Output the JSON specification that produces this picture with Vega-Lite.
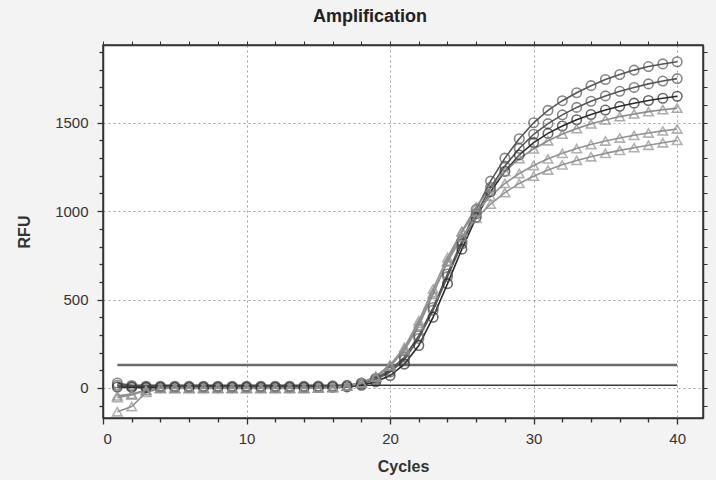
{
  "$schema": "https://vega.github.io/schema/vega-lite/v6.json",
  "autosize": {"type": "none"},
  "width": 600,
  "height": 373,
  "padding": {"left": 103, "top": 45, "right": 13, "bottom": 62},
  "background": "#f3f3f3",
  "config": {
    "font": "Liberation Sans",
    "view": {"fill": "#ffffff", "stroke": "#333333", "strokeWidth": 1.5}
  },
  "title": {"text": "Amplification", "fontSize": 18, "fontWeight": "bold", "font": "Liberation Sans", "color": "#222222", "anchor": "middle", "frame": "group", "dx": -33, "offset": 15},
  "datasets": {
    "curves": [
      {"cycle":1,"sample":"A1","rfu":28},{"cycle":2,"sample":"A1","rfu":14},{"cycle":3,"sample":"A1","rfu":10},{"cycle":4,"sample":"A1","rfu":10},{"cycle":5,"sample":"A1","rfu":10},{"cycle":6,"sample":"A1","rfu":10},{"cycle":7,"sample":"A1","rfu":10},{"cycle":8,"sample":"A1","rfu":10},{"cycle":9,"sample":"A1","rfu":10},{"cycle":10,"sample":"A1","rfu":10},{"cycle":11,"sample":"A1","rfu":10},{"cycle":12,"sample":"A1","rfu":10},{"cycle":13,"sample":"A1","rfu":10},{"cycle":14,"sample":"A1","rfu":10},{"cycle":15,"sample":"A1","rfu":11},{"cycle":16,"sample":"A1","rfu":12},{"cycle":17,"sample":"A1","rfu":15},{"cycle":18,"sample":"A1","rfu":28},{"cycle":19,"sample":"A1","rfu":55},{"cycle":20,"sample":"A1","rfu":100},{"cycle":21,"sample":"A1","rfu":175},{"cycle":22,"sample":"A1","rfu":295},{"cycle":23,"sample":"A1","rfu":455},{"cycle":24,"sample":"A1","rfu":645},{"cycle":25,"sample":"A1","rfu":830},{"cycle":26,"sample":"A1","rfu":1010},{"cycle":27,"sample":"A1","rfu":1170},{"cycle":28,"sample":"A1","rfu":1300},{"cycle":29,"sample":"A1","rfu":1410},{"cycle":30,"sample":"A1","rfu":1500},{"cycle":31,"sample":"A1","rfu":1570},{"cycle":32,"sample":"A1","rfu":1625},{"cycle":33,"sample":"A1","rfu":1670},{"cycle":34,"sample":"A1","rfu":1710},{"cycle":35,"sample":"A1","rfu":1745},{"cycle":36,"sample":"A1","rfu":1773},{"cycle":37,"sample":"A1","rfu":1798},{"cycle":38,"sample":"A1","rfu":1818},{"cycle":39,"sample":"A1","rfu":1833},{"cycle":40,"sample":"A1","rfu":1845},
      {"cycle":1,"sample":"A2","rfu":15},{"cycle":2,"sample":"A2","rfu":8},{"cycle":3,"sample":"A2","rfu":6},{"cycle":4,"sample":"A2","rfu":6},{"cycle":5,"sample":"A2","rfu":6},{"cycle":6,"sample":"A2","rfu":6},{"cycle":7,"sample":"A2","rfu":6},{"cycle":8,"sample":"A2","rfu":6},{"cycle":9,"sample":"A2","rfu":6},{"cycle":10,"sample":"A2","rfu":6},{"cycle":11,"sample":"A2","rfu":6},{"cycle":12,"sample":"A2","rfu":6},{"cycle":13,"sample":"A2","rfu":6},{"cycle":14,"sample":"A2","rfu":6},{"cycle":15,"sample":"A2","rfu":7},{"cycle":16,"sample":"A2","rfu":8},{"cycle":17,"sample":"A2","rfu":12},{"cycle":18,"sample":"A2","rfu":24},{"cycle":19,"sample":"A2","rfu":48},{"cycle":20,"sample":"A2","rfu":90},{"cycle":21,"sample":"A2","rfu":160},{"cycle":22,"sample":"A2","rfu":280},{"cycle":23,"sample":"A2","rfu":440},{"cycle":24,"sample":"A2","rfu":630},{"cycle":25,"sample":"A2","rfu":815},{"cycle":26,"sample":"A2","rfu":985},{"cycle":27,"sample":"A2","rfu":1135},{"cycle":28,"sample":"A2","rfu":1255},{"cycle":29,"sample":"A2","rfu":1355},{"cycle":30,"sample":"A2","rfu":1435},{"cycle":31,"sample":"A2","rfu":1495},{"cycle":32,"sample":"A2","rfu":1545},{"cycle":33,"sample":"A2","rfu":1587},{"cycle":34,"sample":"A2","rfu":1622},{"cycle":35,"sample":"A2","rfu":1652},{"cycle":36,"sample":"A2","rfu":1678},{"cycle":37,"sample":"A2","rfu":1700},{"cycle":38,"sample":"A2","rfu":1720},{"cycle":39,"sample":"A2","rfu":1736},{"cycle":40,"sample":"A2","rfu":1750},
      {"cycle":1,"sample":"A3","rfu":5},{"cycle":2,"sample":"A3","rfu":3},{"cycle":3,"sample":"A3","rfu":2},{"cycle":4,"sample":"A3","rfu":2},{"cycle":5,"sample":"A3","rfu":2},{"cycle":6,"sample":"A3","rfu":2},{"cycle":7,"sample":"A3","rfu":2},{"cycle":8,"sample":"A3","rfu":2},{"cycle":9,"sample":"A3","rfu":2},{"cycle":10,"sample":"A3","rfu":2},{"cycle":11,"sample":"A3","rfu":2},{"cycle":12,"sample":"A3","rfu":2},{"cycle":13,"sample":"A3","rfu":2},{"cycle":14,"sample":"A3","rfu":2},{"cycle":15,"sample":"A3","rfu":3},{"cycle":16,"sample":"A3","rfu":4},{"cycle":17,"sample":"A3","rfu":6},{"cycle":18,"sample":"A3","rfu":15},{"cycle":19,"sample":"A3","rfu":35},{"cycle":20,"sample":"A3","rfu":70},{"cycle":21,"sample":"A3","rfu":135},{"cycle":22,"sample":"A3","rfu":240},{"cycle":23,"sample":"A3","rfu":400},{"cycle":24,"sample":"A3","rfu":590},{"cycle":25,"sample":"A3","rfu":785},{"cycle":26,"sample":"A3","rfu":965},{"cycle":27,"sample":"A3","rfu":1110},{"cycle":28,"sample":"A3","rfu":1225},{"cycle":29,"sample":"A3","rfu":1318},{"cycle":30,"sample":"A3","rfu":1388},{"cycle":31,"sample":"A3","rfu":1440},{"cycle":32,"sample":"A3","rfu":1482},{"cycle":33,"sample":"A3","rfu":1517},{"cycle":34,"sample":"A3","rfu":1547},{"cycle":35,"sample":"A3","rfu":1572},{"cycle":36,"sample":"A3","rfu":1593},{"cycle":37,"sample":"A3","rfu":1611},{"cycle":38,"sample":"A3","rfu":1626},{"cycle":39,"sample":"A3","rfu":1639},{"cycle":40,"sample":"A3","rfu":1650},
      {"cycle":1,"sample":"B1","rfu":-45},{"cycle":2,"sample":"B1","rfu":-35},{"cycle":3,"sample":"B1","rfu":-12},{"cycle":4,"sample":"B1","rfu":0},{"cycle":5,"sample":"B1","rfu":0},{"cycle":6,"sample":"B1","rfu":0},{"cycle":7,"sample":"B1","rfu":0},{"cycle":8,"sample":"B1","rfu":0},{"cycle":9,"sample":"B1","rfu":0},{"cycle":10,"sample":"B1","rfu":0},{"cycle":11,"sample":"B1","rfu":0},{"cycle":12,"sample":"B1","rfu":0},{"cycle":13,"sample":"B1","rfu":0},{"cycle":14,"sample":"B1","rfu":0},{"cycle":15,"sample":"B1","rfu":2},{"cycle":16,"sample":"B1","rfu":4},{"cycle":17,"sample":"B1","rfu":10},{"cycle":18,"sample":"B1","rfu":28},{"cycle":19,"sample":"B1","rfu":62},{"cycle":20,"sample":"B1","rfu":122},{"cycle":21,"sample":"B1","rfu":212},{"cycle":22,"sample":"B1","rfu":352},{"cycle":23,"sample":"B1","rfu":530},{"cycle":24,"sample":"B1","rfu":718},{"cycle":25,"sample":"B1","rfu":885},{"cycle":26,"sample":"B1","rfu":1025},{"cycle":27,"sample":"B1","rfu":1135},{"cycle":28,"sample":"B1","rfu":1225},{"cycle":29,"sample":"B1","rfu":1297},{"cycle":30,"sample":"B1","rfu":1352},{"cycle":31,"sample":"B1","rfu":1398},{"cycle":32,"sample":"B1","rfu":1436},{"cycle":33,"sample":"B1","rfu":1467},{"cycle":34,"sample":"B1","rfu":1494},{"cycle":35,"sample":"B1","rfu":1516},{"cycle":36,"sample":"B1","rfu":1535},{"cycle":37,"sample":"B1","rfu":1550},{"cycle":38,"sample":"B1","rfu":1563},{"cycle":39,"sample":"B1","rfu":1574},{"cycle":40,"sample":"B1","rfu":1583},
      {"cycle":1,"sample":"B2","rfu":-55},{"cycle":2,"sample":"B2","rfu":-40},{"cycle":3,"sample":"B2","rfu":-15},{"cycle":4,"sample":"B2","rfu":-2},{"cycle":5,"sample":"B2","rfu":-2},{"cycle":6,"sample":"B2","rfu":-2},{"cycle":7,"sample":"B2","rfu":-2},{"cycle":8,"sample":"B2","rfu":-2},{"cycle":9,"sample":"B2","rfu":-2},{"cycle":10,"sample":"B2","rfu":-2},{"cycle":11,"sample":"B2","rfu":-2},{"cycle":12,"sample":"B2","rfu":-2},{"cycle":13,"sample":"B2","rfu":-2},{"cycle":14,"sample":"B2","rfu":-2},{"cycle":15,"sample":"B2","rfu":0},{"cycle":16,"sample":"B2","rfu":3},{"cycle":17,"sample":"B2","rfu":11},{"cycle":18,"sample":"B2","rfu":30},{"cycle":19,"sample":"B2","rfu":66},{"cycle":20,"sample":"B2","rfu":130},{"cycle":21,"sample":"B2","rfu":230},{"cycle":22,"sample":"B2","rfu":380},{"cycle":23,"sample":"B2","rfu":560},{"cycle":24,"sample":"B2","rfu":738},{"cycle":25,"sample":"B2","rfu":885},{"cycle":26,"sample":"B2","rfu":995},{"cycle":27,"sample":"B2","rfu":1085},{"cycle":28,"sample":"B2","rfu":1157},{"cycle":29,"sample":"B2","rfu":1213},{"cycle":30,"sample":"B2","rfu":1258},{"cycle":31,"sample":"B2","rfu":1296},{"cycle":32,"sample":"B2","rfu":1327},{"cycle":33,"sample":"B2","rfu":1354},{"cycle":34,"sample":"B2","rfu":1377},{"cycle":35,"sample":"B2","rfu":1397},{"cycle":36,"sample":"B2","rfu":1414},{"cycle":37,"sample":"B2","rfu":1429},{"cycle":38,"sample":"B2","rfu":1442},{"cycle":39,"sample":"B2","rfu":1454},{"cycle":40,"sample":"B2","rfu":1465},
      {"cycle":1,"sample":"B3","rfu":-135},{"cycle":2,"sample":"B3","rfu":-105},{"cycle":3,"sample":"B3","rfu":-25},{"cycle":4,"sample":"B3","rfu":-3},{"cycle":5,"sample":"B3","rfu":-3},{"cycle":6,"sample":"B3","rfu":-3},{"cycle":7,"sample":"B3","rfu":-3},{"cycle":8,"sample":"B3","rfu":-3},{"cycle":9,"sample":"B3","rfu":-3},{"cycle":10,"sample":"B3","rfu":-3},{"cycle":11,"sample":"B3","rfu":-3},{"cycle":12,"sample":"B3","rfu":-3},{"cycle":13,"sample":"B3","rfu":-3},{"cycle":14,"sample":"B3","rfu":-3},{"cycle":15,"sample":"B3","rfu":-1},{"cycle":16,"sample":"B3","rfu":2},{"cycle":17,"sample":"B3","rfu":10},{"cycle":18,"sample":"B3","rfu":28},{"cycle":19,"sample":"B3","rfu":62},{"cycle":20,"sample":"B3","rfu":125},{"cycle":21,"sample":"B3","rfu":220},{"cycle":22,"sample":"B3","rfu":365},{"cycle":23,"sample":"B3","rfu":540},{"cycle":24,"sample":"B3","rfu":712},{"cycle":25,"sample":"B3","rfu":855},{"cycle":26,"sample":"B3","rfu":960},{"cycle":27,"sample":"B3","rfu":1040},{"cycle":28,"sample":"B3","rfu":1105},{"cycle":29,"sample":"B3","rfu":1157},{"cycle":30,"sample":"B3","rfu":1198},{"cycle":31,"sample":"B3","rfu":1233},{"cycle":32,"sample":"B3","rfu":1262},{"cycle":33,"sample":"B3","rfu":1287},{"cycle":34,"sample":"B3","rfu":1308},{"cycle":35,"sample":"B3","rfu":1327},{"cycle":36,"sample":"B3","rfu":1344},{"cycle":37,"sample":"B3","rfu":1359},{"cycle":38,"sample":"B3","rfu":1373},{"cycle":39,"sample":"B3","rfu":1387},{"cycle":40,"sample":"B3","rfu":1400}
    ],
    "thresholds": [
      {"name": "upper", "start": 1, "end": 40, "rfu": 130},
      {"name": "lower", "start": 1, "end": 40, "rfu": 15}
    ]
  },
  "resolve": {"axis": {"x": "independent", "y": "independent"}},
  "layer": [
    {
      "data": {"name": "thresholds"},
      "transform": [{"filter": "datum.name === 'upper'"}],
      "mark": {"type": "rule", "color": "#6a6a6a", "strokeWidth": 2.4},
      "encoding": {
        "x": {"field": "start", "type": "quantitative", "scale": {"domain": [0, 41.8], "nice": false, "zero": false}, "axis": null},
        "x2": {"field": "end"},
        "y": {"field": "rfu", "type": "quantitative", "scale": {"domain": [-170, 1940], "nice": false, "zero": false}, "axis": null}
      }
    },
    {
      "data": {"name": "thresholds"},
      "transform": [{"filter": "datum.name === 'lower'"}],
      "mark": {"type": "rule", "color": "#3a3a3a", "strokeWidth": 1.6},
      "encoding": {
        "x": {"field": "start", "type": "quantitative", "axis": null},
        "x2": {"field": "end"},
        "y": {"field": "rfu", "type": "quantitative", "axis": null}
      }
    },
    {
      "data": {"name": "curves"},
      "mark": {"type": "line", "strokeWidth": 1.6},
      "encoding": {
        "x": {
          "field": "cycle", "type": "quantitative",
          "axis": {
            "orient": "bottom",
            "values": [0,2,4,6,8,10,12,14,16,18,20,22,24,26,28,30,32,34,36,38,40],
            "format": "d",
            "labelExpr": "datum.value % 10 === 0 ? datum.label : ''",
            "labelOverlap": false,
            "labelFontSize": 15, "labelColor": "#333333", "labelPadding": 7,
            "title": "Cycles", "titleFontSize": 16, "titleFontWeight": "bold", "titleColor": "#333333", "titlePadding": 12,
            "domainColor": "#333333", "domainWidth": 1.5,
            "tickColor": "#333333", "tickWidth": 1.3,
            "tickSize": {"condition": {"test": "datum.value % 10 === 0", "value": 6}, "value": 4},
            "grid": true, "gridColor": "#a0a0a0", "gridDash": [2, 3],
            "gridOpacity": {"condition": {"test": "datum.value % 10 === 0 && datum.value > 0", "value": 1}, "value": 0}
          }
        },
        "y": {
          "field": "rfu", "type": "quantitative",
          "axis": {
            "orient": "left",
            "values": [-100,0,100,200,300,400,500,600,700,800,900,1000,1100,1200,1300,1400,1500,1600,1700,1800,1900],
            "format": "d",
            "labelExpr": "datum.value % 500 === 0 ? datum.label : ''",
            "labelOverlap": false,
            "labelFontSize": 15, "labelColor": "#333333", "labelPadding": 9,
            "title": "RFU", "titleFontSize": 16, "titleFontWeight": "bold", "titleColor": "#333333", "titlePadding": 22,
            "domainColor": "#333333", "domainWidth": 1.5,
            "tickColor": "#333333", "tickWidth": 1.3,
            "tickSize": {"condition": {"test": "datum.value % 500 === 0", "value": 6}, "value": 4},
            "grid": true, "gridColor": "#a0a0a0", "gridDash": [2, 3],
            "gridOpacity": {"condition": {"test": "datum.value % 500 === 0", "value": 1}, "value": 0}
          }
        },
        "detail": {"field": "sample"},
        "color": {"field": "sample", "type": "nominal", "legend": null,
          "scale": {"domain": ["A1","A2","A3","B1","B2","B3"], "range": ["#555555","#555555","#2a2a2a","#8a8a8a","#929292","#929292"]}}
      }
    },
    {
      "data": {"name": "curves"},
      "mark": {"type": "point", "filled": false, "size": 90, "strokeWidth": 1.6},
      "encoding": {
        "x": {
          "field": "cycle", "type": "quantitative",
          "axis": {"orient": "top", "values": [0,2,4,6,8,10,12,14,16,18,20,22,24,26,28,30,32,34,36,38,40], "labels": false, "title": null, "grid": false, "tickSize": 4, "tickColor": "#333333", "domainColor": "#333333", "domainWidth": 1.5}
        },
        "y": {
          "field": "rfu", "type": "quantitative",
          "axis": {"orient": "right", "values": [-100,0,100,200,300,400,500,600,700,800,900,1000,1100,1200,1300,1400,1500,1600,1700,1800,1900], "labels": false, "title": null, "grid": false, "tickSize": 4, "tickColor": "#333333", "domainColor": "#333333", "domainWidth": 1.5}
        },
        "shape": {"field": "sample", "type": "nominal", "legend": null,
          "scale": {"domain": ["A1","A2","A3","B1","B2","B3"], "range": ["circle","circle","circle","triangle-up","triangle-up","triangle-up"]}},
        "color": {"field": "sample", "type": "nominal", "legend": null,
          "scale": {"domain": ["A1","A2","A3","B1","B2","B3"], "range": ["#555555","#555555","#2a2a2a","#8a8a8a","#929292","#929292"]}}
      }
    }
  ]
}
